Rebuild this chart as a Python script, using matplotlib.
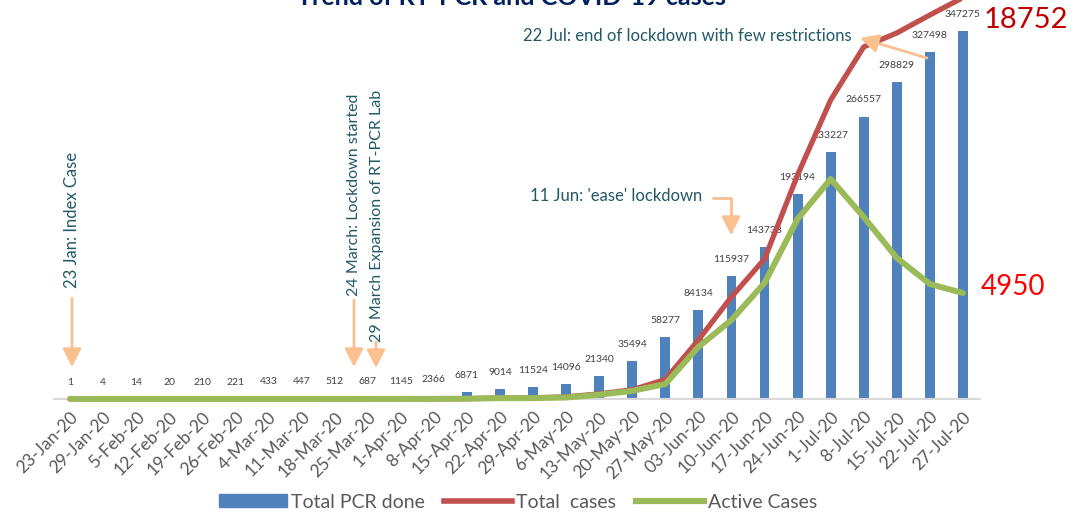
import matplotlib.pyplot as plt
from matplotlib.patches import Patch, FancyArrowPatch
from matplotlib.lines import Line2D

plt.rcParams['font.family'] = ['Lato', 'DejaVu Sans']

dates = ['23-Jan-20', '29-Jan-20', '5-Feb-20', '12-Feb-20', '19-Feb-20', '26-Feb-20',
         '4-Mar-20', '11-Mar-20', '18-Mar-20', '25-Mar-20', '1-Apr-20', '8-Apr-20',
         '15-Apr-20', '22-Apr-20', '29-Apr-20', '6-May-20', '13-May-20', '20-May-20',
         '27-May-20', '03-Jun-20', '10-Jun-20', '17-Jun-20', '24-Jun-20', '1-Jul-20',
         '8-Jul-20', '15-Jul-20', '22-Jul-20', '27-Jul-20']
pcr_done = [1, 4, 14, 20, 210, 221, 433, 447, 512, 687, 1145, 2366, 6871, 9014, 11524,
            14096, 21340, 35494, 58277, 84134, 115937, 143738, 193194, 233227, 266557,
            298829, 327498, 347275]
total_cases = [1, 1, 1, 1, 1, 1, 1, 1, 1, 2, 5, 9, 16, 45, 57, 99, 240, 430, 910,
               2760, 4770, 6540, 10470, 13970, 16450, 17100, 17940, 18752]
active_cases = [1, 1, 1, 1, 1, 1, 1, 1, 1, 2, 4, 8, 15, 40, 40, 70, 200, 380, 700,
                2430, 3690, 5420, 8410, 10280, 8500, 6590, 5370, 4950]

W, H = 1076, 513


def px(x, y):
    # pixel position -> figure fraction
    return (x / W, 1 - y / H)


fig = plt.figure(figsize=(W / 100, H / 100), dpi=100)
ax = fig.add_axes([53.5 / W, 114 / H, (979.5 - 53.5) / W, 399 / H])
ax2 = ax.twinx()

x = range(len(dates))
ax.bar(x, pcr_done, width=0.3, color='#4F81BD', zorder=2)
for i, v in enumerate(pcr_done):
    ax.annotate(str(v), (i, v), xytext=(0, 12), textcoords='offset points',
                ha='center', va='center', fontsize=7.5, color='#404040')

ax.set_xlim(-0.5, len(dates) - 0.5)
ax.set_ylim(0, 376500)
ax.set_xticks(list(x))
ax.set_xticklabels(dates, rotation=45, ha='right', rotation_mode='anchor',
                   fontsize=12.5, color='#595959')
ax.tick_params(axis='x', length=0, pad=7)
ax.set_yticks([])
for s in ['top', 'right', 'left']:
    ax.spines[s].set_visible(False)
ax.spines['bottom'].set_color('#D9D9D9')
ax.spines['bottom'].set_linewidth(1.5)

ax2.plot(x, total_cases, color='#C0504D', lw=3.8, solid_capstyle='round', clip_on=False)
ax2.plot(x, active_cases, color='#9BBB59', lw=4.3, solid_capstyle='round', clip_on=False)
ax2.set_ylim(0, 18640)
ax2.set_yticks([])
for s in ax2.spines.values():
    s.set_visible(False)

# title (cut by the top edge in the original)
fig.text(*px(511, 5), 'Trend of RT-PCR and COVID-19 cases', ha='center', va='baseline',
         fontsize=18, fontweight='bold', color='#002060')

note = '#215868'
arrow = '#FAC090'
head = '-|>,head_length=0.55,head_width=0.28'

fig.text(*px(72, 220), '23 Jan: Index Case', rotation=90, ha='center', va='center',
         fontsize=12, color=note)
fig.text(*px(354, 195), '24 March: Lockdown started', rotation=90, ha='center',
         va='center', fontsize=11.5, color=note)
fig.text(*px(377, 216), '29 March Expansion of RT-PCR Lab', rotation=90, ha='center',
         va='center', fontsize=11.5, color=note)
fig.text(*px(616, 196), "11 Jun: 'ease' lockdown", ha='center', va='center',
         fontsize=12, color=note)
fig.text(*px(687, 36), '22 Jul: end of lockdown with few restrictions', ha='center',
         va='center', fontsize=12, color=note)

arrows = [((72, 298), (72, 367), 'arc3'),
          ((354, 300), (354, 367), 'arc3'),
          ((376, 342), (376, 368), 'arc3'),
          ((713, 198), (731, 235), 'angle,angleA=0,angleB=90,rad=0'),
          ((927, 58), (860, 38), 'arc3')]
for start, end, conn in arrows:
    fig.patches.append(FancyArrowPatch(
        px(*start), px(*end), transform=fig.transFigure, arrowstyle=head,
        connectionstyle=conn, color=arrow, lw=2, mutation_scale=20,
        shrinkA=0, shrinkB=0))

fig.text(*px(1026, 20), '18752', ha='center', va='center', fontsize=21, color='#C00000')
fig.text(*px(1013, 287), '4950', ha='center', va='center', fontsize=20, color='#FF0000')

handles = [Patch(color='#4F81BD'),
           Line2D([], [], color='#C0504D', lw=4),
           Line2D([], [], color='#9BBB59', lw=4.5)]
fig.legend(handles, ['Total PCR done', 'Total  cases', 'Active Cases'], ncol=3,
           loc='center', bbox_to_anchor=px(518, 502), frameon=False, fontsize=14,
           labelcolor='#595959', handlelength=3.5, handleheight=0.6,
           handletextpad=0.2, columnspacing=1.0)

fig.savefig('out.png', dpi=100)
